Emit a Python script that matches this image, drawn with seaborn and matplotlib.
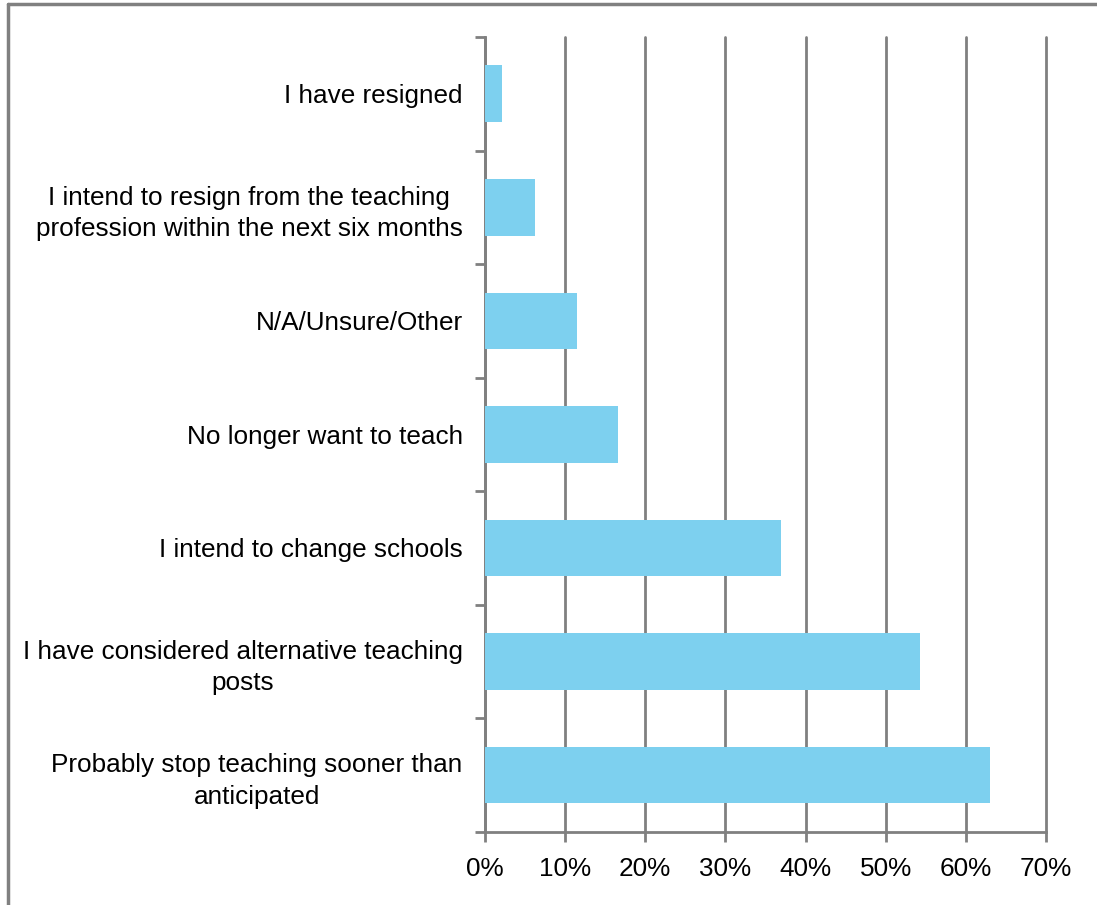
import matplotlib
matplotlib.use("Agg")
import matplotlib.pyplot as plt
import seaborn as sns
import pandas as pd
from matplotlib.ticker import MultipleLocator, PercentFormatter
from matplotlib.lines import Line2D

categorias = [
    "I have resigned",
    "I intend to resign from the teaching\nprofession within the next six months",
    "N/A/Unsure/Other",
    "No longer want to teach",
    "I intend to change schools",
    "I have considered alternative teaching\nposts",
    "Probably stop teaching sooner than\nanticipated",
]
valores = [2.1, 6.3, 11.5, 16.6, 36.9, 54.3, 63.0]

df = pd.DataFrame({"categoria": categorias, "valor": valores})

sns.set_style("white")
plt.rcParams["font.family"] = ["Liberation Sans", "DejaVu Sans"]

fig = plt.figure(figsize=(10.97, 9.05), dpi=100)
ax = fig.add_axes([0.442, 0.081, 0.5115, 0.878])

sns.barplot(data=df, y="categoria", x="valor", orient="h", color="#7DD0EF",
            saturation=1, width=0.5, linewidth=0, ax=ax, zorder=3)

ax.set_xlim(0, 70)
ax.xaxis.set_major_locator(MultipleLocator(10))
ax.xaxis.set_major_formatter(PercentFormatter(decimals=0))
ax.grid(axis="x", color="#808080", linewidth=2, zorder=0)
for gl in ax.get_xgridlines():
    gl.set_clip_on(False)
ax.set_axisbelow(True)
ax.set_ylim(len(categorias) - 0.5, -0.5)

# ticks nas fronteiras das categorias
ax.set_yticks([i + 0.5 for i in range(-1, len(categorias))], minor=True)
ax.tick_params(axis="y", which="minor", left=True, length=7, width=2,
               color="#808080", direction="out")
ax.tick_params(axis="y", which="major", length=0, labelsize=18.8, pad=16,
               labelcolor="black")
ax.tick_params(axis="x", which="major", bottom=True, length=7, width=2,
               color="#808080", direction="out", labelsize=18.8, pad=11,
               labelcolor="black")
for lbl in ax.get_yticklabels():
    lbl.set_multialignment("center")
    lbl.set_linespacing(1.38)

for lado in ["top", "right"]:
    ax.spines[lado].set_visible(False)
for lado in ["left", "bottom"]:
    ax.spines[lado].set_color("#808080")
    ax.spines[lado].set_linewidth(2)

ax.set_xlabel("")
ax.set_ylabel("")

# moldura
fig.add_artist(Line2D([0.0075, 0.0075], [0, 0.996], transform=fig.transFigure,
                      color="#808080", linewidth=2.5))
fig.add_artist(Line2D([0.0075, 1], [0.996, 0.996], transform=fig.transFigure,
                      color="#808080", linewidth=2.5))

plt.savefig("out.png", dpi=100)
